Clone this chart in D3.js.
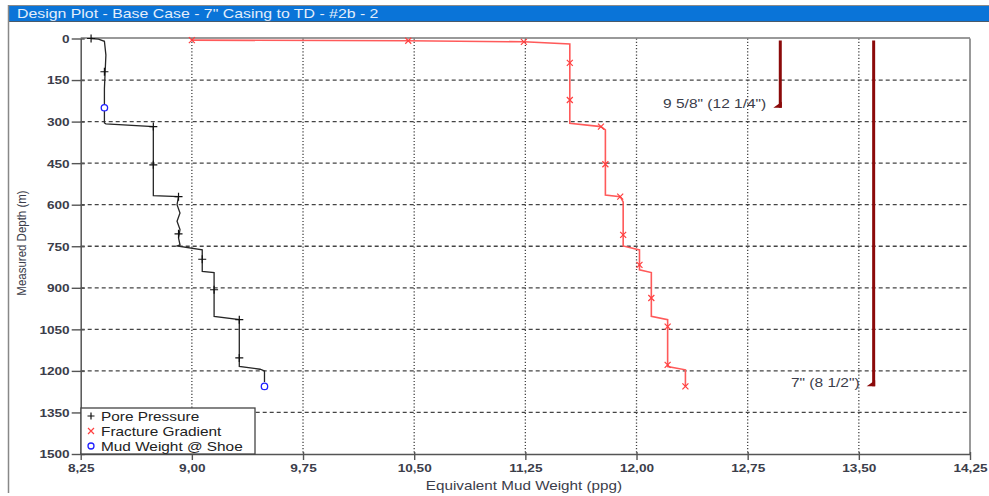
<!DOCTYPE html>
<html><head><meta charset="utf-8">
<script src="https://cdn.jsdelivr.net/npm/d3@7"></script>
<style>html,body{margin:0;padding:0;background:#fff;overflow:hidden}</style>
</head><body>
<svg id="c" width="989" height="496"></svg>
<script>
// ---- data ----
const xTicks = [8.25, 9.00, 9.75, 10.50, 11.25, 12.00, 12.75, 13.50, 14.25];
const yTicks = [0, 150, 300, 450, 600, 750, 900, 1050, 1200, 1350, 1500];

// Pore pressure line (ppg, depth m)
const ppLinePpg   = [8.32, 8.37, 8.41, 8.42, 8.41, 8.41, 8.42, 8.74, 8.74, 8.74, 8.91, 8.90, 8.92, 8.90, 8.92, 8.91, 8.92, 8.90, 9.07, 9.07, 9.07, 9.15, 9.15, 9.15, 9.32, 9.32, 9.32, 9.46, 9.49, 9.49];
const ppLineDepth = [0, 2, 10, 60, 180, 305, 308, 318, 456, 567, 571, 600, 630, 660, 690, 720, 745, 749, 763, 797, 841, 845, 907, 1003, 1015, 1153, 1184, 1194, 1200, 1240];
const ppMarkPpg   = [8.32, 8.41, 8.74, 8.74, 8.91, 8.91, 9.07, 9.15, 9.32, 9.32];
const ppMarkDepth = [0, 120, 318, 456, 571, 705, 797, 907, 1015, 1153];

// Fracture gradient line
const fgLinePpg   = [9.00, 10.46, 11.24, 11.55, 11.55, 11.55, 11.76, 11.79, 11.79, 11.89, 11.91, 11.91, 12.02, 12.02, 12.02, 12.10, 12.10, 12.10, 12.21, 12.21, 12.21, 12.33, 12.33];
const fgLineDepth = [6, 8, 12, 20, 222, 306, 318, 330, 565, 571, 590, 749, 763, 817, 835, 845, 937, 1003, 1015, 1178, 1184, 1196, 1256];
const fgMarkPpg   = [9.00, 10.46, 11.24, 11.55, 11.55, 11.76, 11.79, 11.89, 11.91, 12.02, 12.10, 12.21, 12.21, 12.33];
const fgMarkDepth = [6, 8, 12, 88, 222, 318, 454, 571, 709, 817, 937, 1040, 1178, 1256];

// Mud weight @ shoe
const mwPpg   = [8.41, 9.49];
const mwDepth = [250, 1256];

// Casings
const casingLabels = ['9 5/8" (12 1/4")', '7" (8 1/2")'];
const casingPpg    = [12.97, 13.60];
const casingTop    = [0, 0];
const casingShoe   = [250, 1255];

const legendLabels = ['Pore Pressure', 'Fracture Gradient', 'Mud Weight @ Shoe'];
const titleText = 'Design Plot - Base Case - 7" Casing to TD - #2b - 2';
const xTitle = 'Equivalent Mud Weight (ppg)';
const yTitle = 'Measured Depth (m)';

// ---- drawing ----
const svg = d3.select('#c');
const FONT = '"Liberation Sans", Arial, sans-serif';
const SX = 1.24; // horizontal stretch of text in reference
const x = d3.scaleLinear().domain([8.25, 14.25]).range([80.7, 970]);
const y = d3.scaleLinear().domain([0, 1500]).range([38.5, 454]);
const fmt = d => d3.format('.2f')(d).replace('.', ',');

function stretch(sel){
  sel.each(function(){
    const t = d3.select(this);
    const tx = +t.attr('x') || 0, ty = +t.attr('y') || 0;
    t.attr('x', 0).attr('y', 0).attr('transform', `translate(${tx},${ty}) scale(${SX},1)`);
  });
}

// window frame
svg.append('rect').attr('x', 8).attr('y', 5).attr('width', 981).attr('height', 17).attr('fill', '#0a74d8');
svg.append('line').attr('x1', 8).attr('x2', 989).attr('y1', 5.5).attr('y2', 5.5).attr('stroke', '#8a8a8a');
svg.append('line').attr('x1', 8).attr('x2', 989).attr('y1', 21.5).attr('y2', 21.5).attr('stroke', '#4a5a6a');
svg.append('line').attr('x1', 8.5).attr('x2', 8.5).attr('y1', 5).attr('y2', 493).attr('stroke', '#888').attr('stroke-width', 1.5);
svg.append('text').attr('x', 17).attr('y', 18).text(titleText)
  .attr('font-family', FONT).attr('font-size', 12.8).attr('fill', '#e4eefb').call(stretch);

// grid
const g = svg.append('g');
g.selectAll('.vg').data(xTicks.slice(1, -1)).enter().append('line')
  .attr('x1', d => x(d)).attr('x2', d => x(d)).attr('y1', y(0)).attr('y2', y(1500))
  .attr('stroke', '#444').attr('stroke-width', 1.3).attr('stroke-dasharray', '1.2,2');
g.selectAll('.hg').data(yTicks.slice(1, -1)).enter().append('line')
  .attr('x1', x(8.25)).attr('x2', x(14.25)).attr('y1', d => y(d)).attr('y2', d => y(d))
  .attr('stroke', '#444').attr('stroke-width', 1.3).attr('stroke-dasharray', '4,3');

// frame border top/right
svg.append('line').attr('x1', x(8.25)).attr('x2', x(14.25)).attr('y1', y(0) - 0.5).attr('y2', y(0) - 0.5).attr('stroke', '#777').attr('stroke-width', 1.5);
svg.append('line').attr('x1', x(14.25)).attr('x2', x(14.25)).attr('y1', y(0)).attr('y2', y(1500)).attr('stroke', '#777').attr('stroke-width', 1.5);

// axes
const xAxis = svg.append('g').attr('transform', `translate(0,${y(1500)})`)
  .call(d3.axisBottom(x).tickValues(xTicks).tickFormat(fmt).tickSizeOuter(0).tickSizeInner(6));
const yAxis = svg.append('g').attr('transform', `translate(${x(8.25)},0)`)
  .call(d3.axisLeft(y).tickValues(yTicks).tickFormat(d => d).tickSizeOuter(0).tickSizeInner(9));
[xAxis, yAxis].forEach(a => {
  a.select('.domain').attr('stroke', '#555').attr('stroke-width', 1.5);
  a.selectAll('.tick line').attr('stroke', '#555').attr('stroke-width', 1.4);
  a.selectAll('.tick text').attr('font-family', FONT).attr('font-size', 11).attr('font-weight', 'bold').attr('fill', '#3b3d4a');
});
yAxis.selectAll('.tick line').attr('x2', 4).attr('x1', -9);
yAxis.selectAll('.tick text').attr('x', -11).attr('dy', '0.35em');
xAxis.selectAll('.tick line').attr('y1', -2);
xAxis.selectAll('.tick text').attr('y', 10);
xAxis.selectAll('.tick text').call(stretch);
yAxis.selectAll('.tick text').call(stretch);

// axis titles
svg.append('text').attr('x', 524).attr('y', 490).attr('text-anchor', 'middle').text(xTitle)
  .attr('font-family', FONT).attr('font-size', 12.3).attr('fill', '#3b3d4a').call(stretch);
svg.append('text').attr('transform', 'translate(26,243) rotate(-90) scale(1,1.15)').attr('text-anchor', 'middle').text(yTitle)
  .attr('font-family', FONT).attr('font-size', 11.5).attr('fill', '#3b3d4a');

// lines
const line = d3.line().x(d => x(d[0])).y(d => y(d[1]));
const ppData = ppLinePpg.map((p, i) => [p, ppLineDepth[i]]);
const fgData = fgLinePpg.map((p, i) => [p, fgLineDepth[i]]);
svg.append('path').datum(fgData).attr('d', line).attr('fill', 'none').attr('stroke', '#ff5a5a').attr('stroke-width', 1.6);
svg.append('path').datum(ppData).attr('d', line).attr('fill', 'none').attr('stroke', '#262626').attr('stroke-width', 1.3);

// markers
function plus(sel, s){ return sel.attr('d', `M${-s},0H${s}M0,${-s}V${s}`); }
function cross(sel, s){ return sel.attr('d', `M${-s},${-s}L${s},${s}M${-s},${s}L${s},${-s}`); }
svg.selectAll('.ppm').data(ppMarkPpg.map((p, i) => [p, ppMarkDepth[i]])).enter().append('path')
  .attr('transform', d => `translate(${x(d[0])},${y(d[1])})`).call(plus, 4)
  .attr('stroke', '#111').attr('stroke-width', 1.2).attr('fill', 'none');
svg.selectAll('.fgm').data(fgMarkPpg.map((p, i) => [p, fgMarkDepth[i]])).enter().append('path')
  .attr('transform', d => `translate(${x(d[0])},${y(d[1])})`).call(cross, 3)
  .attr('stroke', '#ff4040').attr('stroke-width', 1.2).attr('fill', 'none');
svg.selectAll('.mw').data(mwPpg.map((p, i) => [p, mwDepth[i]])).enter().append('circle')
  .attr('cx', d => x(d[0])).attr('cy', d => y(d[1])).attr('r', 3.2)
  .attr('fill', '#fff').attr('stroke', '#2020ff').attr('stroke-width', 1.3);

// casings
casingPpg.forEach((p, i) => {
  const cx = x(p), yb = y(casingShoe[i]);
  svg.append('line').attr('x1', cx).attr('x2', cx).attr('y1', y(casingTop[i]) + 2).attr('y2', yb)
    .attr('stroke', '#8b0a0a').attr('stroke-width', 3);
  svg.append('path').attr('d', `M${cx + 1.5},${yb}L${cx - 7},${yb}L${cx + 1.5},${yb - 6}Z`).attr('fill', '#8b0a0a');
  svg.append('text').attr('x', cx - 14).attr('y', yb + 0.5).attr('text-anchor', 'end').text(casingLabels[i])
    .attr('font-family', FONT).attr('font-size', 12.5).attr('fill', '#3b3d4a').call(stretch);
});

// legend
const lg = svg.append('g');
lg.append('rect').attr('x', 81).attr('y', 408).attr('width', 174).attr('height', 46)
  .attr('fill', '#fff').attr('stroke', '#444').attr('stroke-width', 1.3);
const ly = [416, 431, 446];
lg.append('path').attr('transform', `translate(91,${ly[0]})`).call(plus, 3.5).attr('stroke', '#111').attr('stroke-width', 1.2);
lg.append('path').attr('transform', `translate(91,${ly[1]})`).call(cross, 3).attr('stroke', '#ff4040').attr('stroke-width', 1.2);
lg.append('circle').attr('cx', 91).attr('cy', ly[2]).attr('r', 3).attr('fill', '#fff').attr('stroke', '#2020ff').attr('stroke-width', 1.3);
legendLabels.forEach((t, i) => {
  lg.append('text').attr('x', 101).attr('y', ly[i] + 4.5).text(t)
    .attr('font-family', FONT).attr('font-size', 12.4).attr('fill', '#222').call(stretch);
});
</script>
</body></html>
